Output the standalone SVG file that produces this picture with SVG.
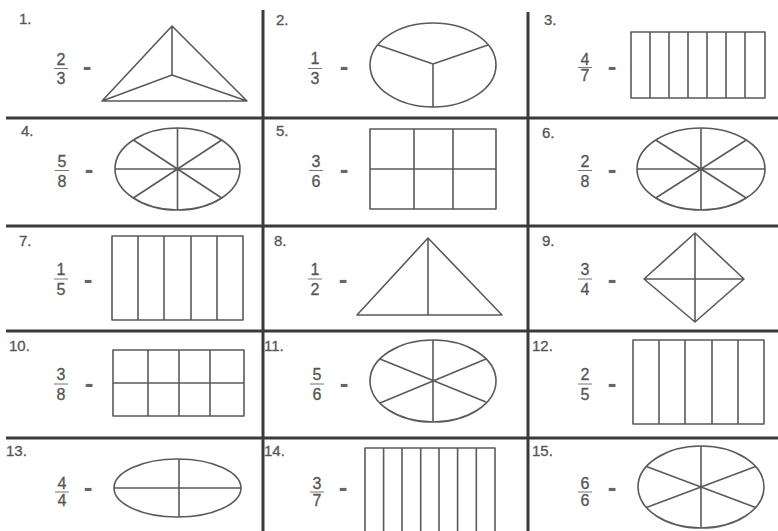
<svg xmlns="http://www.w3.org/2000/svg" width="778" height="531" viewBox="0 0 778 531">
<style>
.grid{stroke:#3a3a3a;stroke-width:3;fill:none}
.sh{fill:none;stroke:#5a5a5a;stroke-width:1.6;stroke-linejoin:round}
.lbl{font-family:"Liberation Sans",Arial,sans-serif;font-size:15px;fill:#555;stroke:#555;stroke-width:0.3}
.fr{font-family:"Liberation Sans",Arial,sans-serif;font-size:16px;fill:#555;stroke:#555;stroke-width:0.3;text-anchor:middle}
.eq{font-family:"Liberation Sans",Arial,sans-serif;font-size:26px;font-weight:bold;fill:#666;text-anchor:middle}
.bar{stroke:#777;stroke-width:1}
</style>
<rect width="778" height="531" fill="#fff"/>
<g id="connectors">
<line class="grid" x1="6" y1="118" x2="778" y2="118"/>
<line class="grid" x1="6" y1="226" x2="778" y2="226"/>
<line class="grid" x1="6" y1="331" x2="778" y2="331"/>
<line class="grid" x1="6" y1="438" x2="778" y2="438"/>
<line class="grid" x1="263" y1="10" x2="263" y2="531"/>
<line class="grid" x1="528" y1="12" x2="528" y2="531"/>
</g>
<g id="cell1">
<text class="lbl" x="19" y="24">1.</text>
<text class="fr" x="61" y="65">2</text><line class="bar" x1="54" y1="68.5" x2="68" y2="68.5"/><text class="fr" x="61" y="84">3</text>
<text class="eq" x="87" y="75">-</text>
<path class="sh" d="M172 26 L102 101 L247 101 Z M172 26 L172 75 M102 101 L172 75 L247 101"/>
</g>
<g id="cell2">
<text class="lbl" x="276" y="25">2.</text>
<text class="fr" x="315" y="64">1</text><line class="bar" x1="308" y1="68.5" x2="322" y2="68.5"/><text class="fr" x="315" y="84">3</text>
<text class="eq" x="344" y="75">-</text>
<ellipse class="sh" cx="433" cy="65" rx="63" ry="42"/>
<path class="sh" d="M378 45 L433 64 L488 45 M433 64 L433 107"/>
</g>
<g id="cell3">
<text class="lbl" x="544" y="25">3.</text>
<text class="fr" x="585" y="65">4</text><line class="bar" x1="578" y1="67.5" x2="592" y2="67.5"/><text class="fr" x="585" y="81">7</text>
<text class="eq" x="612" y="75">-</text>
<rect class="sh" x="631" y="32" width="134" height="66"/>
<path class="sh" d="M650 32V98M669 32V98M688 32V98M707 32V98M726 32V98M745 32V98"/>
</g>
<g id="cell4">
<text class="lbl" x="21" y="136">4.</text>
<text class="fr" x="62" y="167">5</text><line class="bar" x1="55" y1="170.5" x2="69" y2="170.5"/><text class="fr" x="62" y="187">8</text>
<text class="eq" x="89" y="178">-</text>
<ellipse class="sh" cx="177.5" cy="169" rx="62.5" ry="41"/>
<path class="sh" d="M115 169H240M177.5 128V210M133.3 140L221.7 198M133.3 198L221.7 140"/>
</g>
<g id="cell5">
<text class="lbl" x="276" y="136">5.</text>
<text class="fr" x="316" y="167">3</text><line class="bar" x1="309" y1="170.5" x2="323" y2="170.5"/><text class="fr" x="316" y="187">6</text>
<text class="eq" x="344" y="178">-</text>
<rect class="sh" x="370" y="129" width="126" height="80"/>
<path class="sh" d="M414 129V209M453 129V209M370 169H496"/>
</g>
<g id="cell6">
<text class="lbl" x="542" y="138">6.</text>
<text class="fr" x="585" y="167">2</text><line class="bar" x1="578" y1="170.5" x2="592" y2="170.5"/><text class="fr" x="585" y="187">8</text>
<text class="eq" x="612" y="178">-</text>
<ellipse class="sh" cx="701" cy="169" rx="64" ry="41"/>
<path class="sh" d="M637 169H765M701 128V210M655.7 140L746.3 198M655.7 198L746.3 140"/>
</g>
<g id="cell7">
<text class="lbl" x="19" y="246">7.</text>
<text class="fr" x="61" y="275">1</text><line class="bar" x1="54" y1="279" x2="68" y2="279"/><text class="fr" x="61" y="295">5</text>
<text class="eq" x="88" y="288">-</text>
<rect class="sh" x="112" y="236" width="131" height="84"/>
<path class="sh" d="M138 236V320M164 236V320M191 236V320M217 236V320"/>
</g>
<g id="cell8">
<text class="lbl" x="274" y="246">8.</text>
<text class="fr" x="315" y="275">1</text><line class="bar" x1="308" y1="279" x2="322" y2="279"/><text class="fr" x="315" y="295">2</text>
<text class="eq" x="343" y="288">-</text>
<path class="sh" d="M428 238L357 315H502Z M428 238V315"/>
</g>
<g id="cell9">
<text class="lbl" x="542" y="246">9.</text>
<text class="fr" x="585" y="275">3</text><line class="bar" x1="578" y1="279" x2="592" y2="279"/><text class="fr" x="585" y="295">4</text>
<text class="eq" x="612" y="288">-</text>
<path class="sh" d="M695 233L744 279L695 322L644 279Z M644 279H744 M695 233V322"/>
</g>
<g id="cell10">
<text class="lbl" x="9" y="351">10.</text>
<text class="fr" x="61" y="380">3</text><line class="bar" x1="54" y1="384" x2="68" y2="384"/><text class="fr" x="61" y="400">8</text>
<text class="eq" x="89" y="392">-</text>
<rect class="sh" x="113" y="350" width="131" height="66"/>
<path class="sh" d="M148 350V416M179 350V416M210 350V416M113 383H244"/>
</g>
<g id="cell11">
<text class="lbl" x="264" y="351">11.</text>
<text class="fr" x="317" y="380">5</text><line class="bar" x1="310" y1="384" x2="324" y2="384"/><text class="fr" x="317" y="400">6</text>
<text class="eq" x="344" y="392">-</text>
<ellipse class="sh" cx="433" cy="381" rx="63" ry="41"/>
<path class="sh" d="M433 340V422M380 359L486 402M380 403L486 359"/>
</g>
<g id="cell12">
<text class="lbl" x="532" y="351">12.</text>
<text class="fr" x="585" y="380">2</text><line class="bar" x1="578" y1="384" x2="592" y2="384"/><text class="fr" x="585" y="400">5</text>
<text class="eq" x="612" y="392">-</text>
<rect class="sh" x="633" y="340" width="131" height="84"/>
<path class="sh" d="M659 340V424M685 340V424M712 340V424M738 340V424"/>
</g>
<g id="cell13">
<text class="lbl" x="6" y="456">13.</text>
<text class="fr" x="62" y="489">4</text><line class="bar" x1="55" y1="492" x2="69" y2="492"/><text class="fr" x="62" y="506">4</text>
<text class="eq" x="88" y="496">-</text>
<ellipse class="sh" cx="177.5" cy="488" rx="63.5" ry="29"/>
<path class="sh" d="M114 488H241M179 459V517"/>
</g>
<g id="cell14">
<text class="lbl" x="264" y="456">14.</text>
<text class="fr" x="317" y="489">3</text><line class="bar" x1="310" y1="492" x2="324" y2="492"/><text class="fr" x="317" y="506">7</text>
<text class="eq" x="343" y="496">-</text>
<path class="sh" d="M365 533V448H495V533 M383.6 448V533M402 448V533M420.7 448V533M439 448V533M457.6 448V533M476.3 448V533"/>
</g>
<g id="cell15">
<text class="lbl" x="532" y="456">15.</text>
<text class="fr" x="585" y="489">6</text><line class="bar" x1="578" y1="492" x2="592" y2="492"/><text class="fr" x="585" y="506">6</text>
<text class="eq" x="612" y="496">-</text>
<ellipse class="sh" cx="701" cy="487" rx="63" ry="41"/>
<path class="sh" d="M701 446V528M646.4 466.5L755.6 507.5M646.4 507.5L755.6 466.5"/>
</g>
</svg>
